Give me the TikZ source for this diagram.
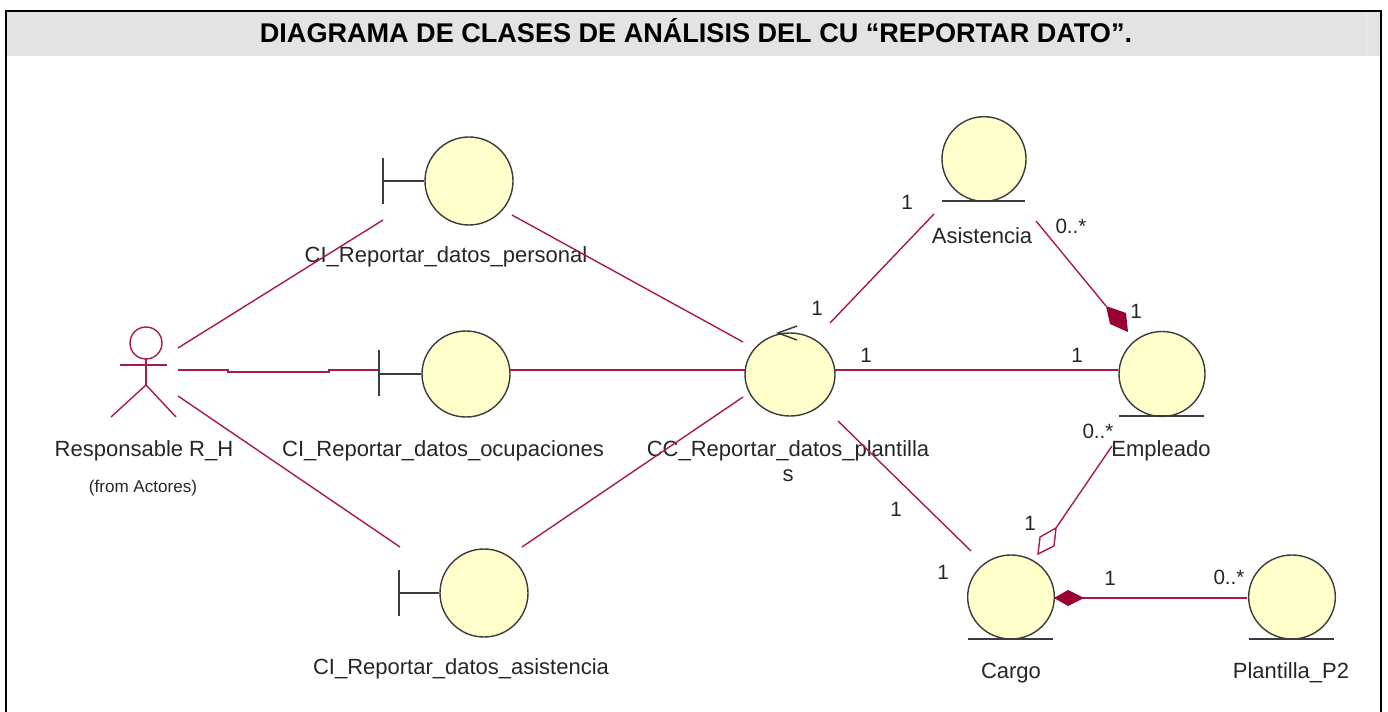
\documentclass[tikz,border=0pt]{standalone}
\usepackage{fontspec}
\setmainfont{Liberation Sans}
\usetikzlibrary{positioning,shapes.geometric}
\definecolor{asoc}{HTML}{A81A4A}
\definecolor{rombo}{HTML}{990033}
\definecolor{crema}{HTML}{FFFFCC}
\definecolor{trazo}{HTML}{3C3C3C}
\definecolor{franja}{HTML}{E3E3E3}
\tikzset{
  clase/.style={ellipse,draw=trazo,fill=crema,line width=1.05pt,inner sep=0pt,minimum width=66pt,minimum height=66pt},
  nombre/.style={font=\fontsize{16.5}{18}\selectfont,text=black!85,inner sep=0pt},
  mult/.style={font=\fontsize{15.5}{18}\selectfont,text=black!85,inner sep=0pt},
  linea/.style={asoc,line width=1.05pt},
  gruesa/.style={asoc,line width=1.5pt},
  icono/.style={trazo,line width=1.1pt}
}
\begin{document}
\begin{tikzpicture}[x=.75pt,y=-.75pt]
    \useasboundingbox (0,0) rectangle (1388,712);
    \fill[franja] (7,12) rectangle (1380,56);
    \draw[franja!60!white,line width=.6pt] (1366,12) -- (1366,56);
    \draw[black,line width=1.6pt] (6,712) -- (6,11) -- (1381,11) -- (1381,712);
    \node[font=\bfseries\fontsize{20.3}{24}\selectfont,inner sep=0pt] (titulo) at (696,31) {DIAGRAMA DE CLASES DE ANÁLISIS DEL CU “REPORTAR DATO”.};

    \node[clase] (personal) at (469,181) {};
    \node[clase,minimum height=64.5pt] (ocupaciones) at (466,374) {};
    \node[clase] (asistencia) at (484,593) {};
    \node[clase,minimum width=67.5pt,minimum height=62.25pt] (control) at (790,374.5) {};
    \node[clase,minimum width=63pt,minimum height=63.5pt] (asist) at (984,159) {};
    \node[clase,minimum width=64.5pt,minimum height=63.75pt] (empleado) at (1162,374) {};
    \node[clase,minimum width=65pt,minimum height=63pt] (cargo) at (1011,597) {};
    \node[clase,minimum width=65pt,minimum height=63pt] (plantilla) at (1292,597) {};

    \node[nombre] (lpersonal) at (446,257) {CI\_Reportar\_datos\_personal};
    \node[nombre] (locupaciones) at (443,451) {CI\_Reportar\_datos\_ocupaciones};
    \node[nombre] (lasistencia) at (461,669) {CI\_Reportar\_datos\_asistencia};
    \node[nombre] (lcontrol) at (788,451) {CC\_Reportar\_datos\_plantilla};
    \node[nombre] (lcontrols) at (788,476) {s};
    \node[nombre] (lasist) at (982,236) {Asistencia};
    \node[nombre] (lempleado) at (1161,451) {Empleado};
    \node[nombre] (lcargo) at (1011,673) {Cargo};
    \node[nombre] (lplantilla) at (1291,673) {Plantilla\_P2};
    \node[nombre] (lactor) at (144,451) {Responsable R\_H};
    \node[nombre,font=\fontsize{12.8}{14}\selectfont] (lactores) at (143,488) {(from Actores)};

    \foreach \px/\py [count=\i] in {907/202,817/308,866/355,1077/355,1136/311,896/509,943/572,1030/523,1110/578}
        \node[mult] (uno\i) at (\px,\py) {1};
    \foreach \px/\py [count=\i] in {1071/226,1098/431,1229/577}
        \node[mult] (muchos\i) at (\px,\py) {0..*};

    \coordinate (actorA) at (178,348);
    \coordinate (actorB) at (178,370);
    \coordinate (actorC) at (178,396);
    \coordinate (personalI) at (383,220);
    \coordinate (ocupI) at (379,370);
    \coordinate (asisI) at (400,547);
    \coordinate (personalD) at (512,215);
    \coordinate (ocupD) at (510,370);
    \coordinate (asisD) at (522,547);
    \coordinate (controlA) at (743,342);
    \coordinate (controlB) at (745,370);
    \coordinate (controlC) at (743,397);
    \coordinate (controlD) at (830,323);
    \coordinate (controlE) at (835,370);
    \coordinate (controlF) at (838,421);
    \coordinate (asistI) at (934,214);
    \coordinate (asistD) at (1036,221);
    \coordinate (empleadoI) at (1118,370);
    \coordinate (empleadoA) at (1106,306);
    \coordinate (empleadoB) at (1112,446);
    \coordinate (cargoA) at (971,551);
    \coordinate (cargoB) at (1056,528);
    \coordinate (cargoC) at (1054,598);
    \coordinate (plantillaI) at (1247,598);

    \draw[linea] (actorA) -- (personalI);
    \draw[gruesa] (actorB) -- ++(50,0) -- ++(0,2) -- ++(101,0) -- ++(0,-2) -- (ocupI);
    \draw[linea] (actorC) -- (asisI);
    \draw[linea] (personalD) -- (controlA);
    \draw[gruesa] (ocupD) -- (controlB);
    \draw[linea] (asisD) -- (controlC);
    \draw[linea] (controlD) -- (asistI);
    \draw[gruesa] (controlE) -- (empleadoI);
    \draw[linea] (controlF) -- (cargoA);
    \draw[linea] (asistD) -- (empleadoA);
    \draw[linea] (empleadoB) -- (cargoB);
    \draw[gruesa] (cargoC) -- (plantillaI);

    \fill[rombo] (empleadoA) -- (1126,313) -- (1128,332) -- (1110,324) -- cycle;
    \draw[linea,fill=white] (cargoB) -- (1040,537) -- (1038,554) -- (1054,546) -- cycle;
    \fill[rombo] (cargoC) -- (1068,590) -- (1084,598) -- (1068,606) -- cycle;

    \draw[icono] (383,158) -- (383,204);
    \draw[icono] (383,181) -- (personal.west);
    \draw[icono] (379,350) -- (379,396);
    \draw[icono] (379,374) -- (ocupaciones.west);
    \draw[icono] (399,570) -- (399,616);
    \draw[icono] (399,593) -- (asistencia.west);
    \draw[icono] (942,201) -- (1025,201);
    \draw[icono] (1119,416) -- (1204,416);
    \draw[icono] (968,639) -- (1053,639);
    \draw[icono] (1249,639) -- (1334,639);
    \draw[icono] (797,326) -- (778,333) -- (797,340);

    \draw[linea] (146,343) circle (16);
    \draw[linea] (146,359) -- (146,385);
    \draw[linea] (120,365) -- (167,365);
    \draw[linea] (111,417) -- (146,385) -- (176,417);
\end{tikzpicture}
\end{document}
